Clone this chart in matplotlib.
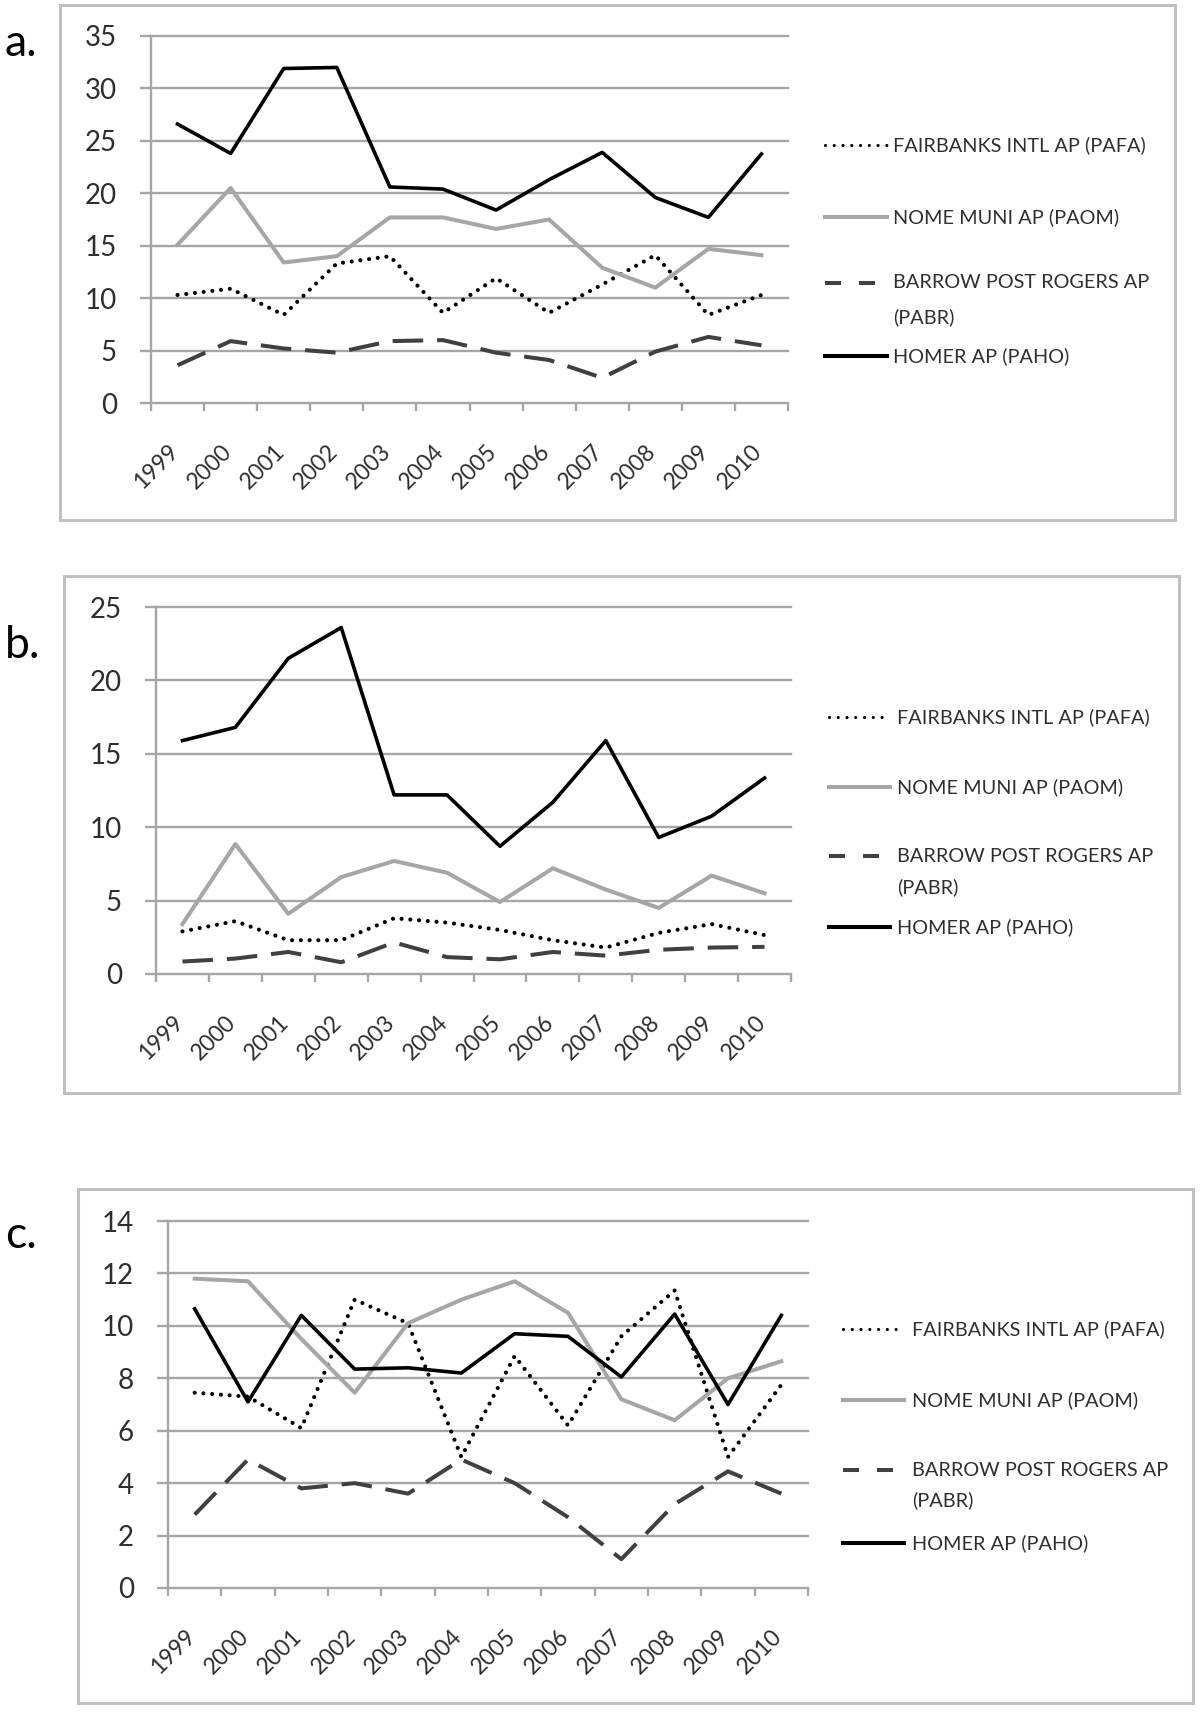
import matplotlib
matplotlib.use('Agg')
import matplotlib.pyplot as plt
from matplotlib.lines import Line2D
from matplotlib.patches import Rectangle
import matplotlib.transforms as mtrans

plt.rcParams['font.family'] = ['Lato', 'DejaVu Sans']
plt.rcParams['lines.scale_dashes'] = False

# ---------------- data ----------------
years = ['1999', '2000', '2001', '2002', '2003', '2004', '2005', '2006', '2007', '2008', '2009', '2010']
series_names = ['FAIRBANKS INTL AP (PAFA)', 'NOME MUNI AP (PAOM)',
                'BARROW POST ROGERS AP', 'HOMER AP (PAHO)']

a_fairbanks = [10.3, 10.9, 8.4, 13.3, 14.0, 8.6, 11.9, 8.6, 11.3, 14.1, 8.4, 10.3]
a_nome = [15.1, 20.5, 13.4, 14.0, 17.7, 17.7, 16.6, 17.5, 12.9, 11.0, 14.7, 14.1]
a_barrow = [3.6, 5.9, 5.2, 4.8, 5.9, 6.0, 4.8, 4.1, 2.4, 4.9, 6.3, 5.5]
a_homer = [26.6, 23.8, 31.9, 32.0, 20.6, 20.4, 18.4, 21.3, 23.9, 19.6, 17.7, 23.75]

b_fairbanks = [2.9, 3.6, 2.3, 2.3, 3.8, 3.5, 3.0, 2.3, 1.8, 2.8, 3.4, 2.65]
b_nome = [3.4, 8.85, 4.1, 6.6, 7.7, 6.9, 4.9, 7.2, 5.75, 4.5, 6.7, 5.5]
b_barrow = [0.85, 1.05, 1.5, 0.8, 2.15, 1.15, 1.0, 1.5, 1.25, 1.65, 1.8, 1.85]
b_homer = [15.9, 16.8, 21.5, 23.6, 12.2, 12.2, 8.7, 11.7, 15.9, 9.3, 10.75, 13.35]

c_fairbanks = [7.45, 7.3, 6.1, 11.0, 10.1, 5.0, 8.85, 6.2, 9.6, 11.35, 5.0, 7.75]
c_nome = [11.8, 11.7, 9.5, 7.45, 10.1, 11.0, 11.7, 10.5, 7.2, 6.4, 8.0, 8.65]
c_barrow = [2.8, 4.9, 3.8, 4.0, 3.6, 4.9, 4.0, 2.7, 1.1, 3.2, 4.45, 3.6]
c_homer = [10.65, 7.1, 10.4, 8.35, 8.4, 8.2, 9.7, 9.6, 8.05, 10.45, 7.0, 10.4]

a_yticks = [0, 5, 10, 15, 20, 25, 30, 35]
b_yticks = [0, 5, 10, 15, 20, 25]
c_yticks = [0, 2, 4, 6, 8, 10, 12, 14]

# ---------------- layout (pixels) ----------------
W, H = 1200, 1713
DPI = 100
PT = 72.0 / DPI  # points per pixel

GRID = '#a6a6a6'
BOX = '#c0c0c0'
TXT = '#2e2e2e'

fig = plt.figure(figsize=(W / DPI, H / DPI), dpi=DPI)


def fx(p):
    return p / W


def fy(p):
    return 1 - p / H


panels = [
    dict(label='a.', lab_y=44, box=(60, 5, 1175, 520), plot=(151, 36, 788, 403),
         yticks=a_yticks, data=[a_fairbanks, a_nome, a_barrow, a_homer],
         leg=(825, 887, 893, [145, 217, 283, 356], 34)),
    dict(label='b.', lab_y=646, box=(64, 576, 1179, 1093), plot=(156, 607, 791, 974),
         yticks=b_yticks, data=[b_fairbanks, b_nome, b_barrow, b_homer],
         leg=(829, 890, 897, [717, 787, 856, 927], 31)),
    dict(label='c.', lab_y=1235, box=(78, 1189, 1193, 1703), plot=(168, 1221, 808, 1588),
         yticks=c_yticks, data=[c_fairbanks, c_nome, c_barrow, c_homer],
         leg=(843, 904, 912, [1329, 1400, 1470, 1543], 30)),
]

styles = [
    dict(color='black', lw=3.0, dashes=(0.01, 6.3), dash_capstyle='round'),
    dict(color='#a6a6a6', lw=2.9),
    dict(color='#404040', lw=2.9, dashes=(22, 10), dash_capstyle='butt'),
    dict(color='black', lw=2.6),
]
leg_styles = [
    dict(color='black', lw=2.3, dashes=(0.01, 6.3), dash_capstyle='round'),
    dict(color='#a6a6a6', lw=2.9),
    dict(color='#404040', lw=2.9, dashes=(11.5, 13), dash_capstyle='butt'),
    dict(color='black', lw=2.9),
]

x = list(range(len(years)))

for p in panels:
    l, t, r, b = p['plot']
    ax = fig.add_axes([fx(l), fy(b), (r - l) / W, (b - t) / H])
    yt = p['yticks']
    ax.set_xlim(-0.5, len(years) - 0.5)
    ax.set_ylim(0, yt[-1])

    for v in yt[1:]:
        ax.axhline(v, color=GRID, lw=1.7, zorder=1, clip_on=False)

    for sp in ['top', 'right']:
        ax.spines[sp].set_visible(False)
    for sp in ['left', 'bottom']:
        ax.spines[sp].set_color(GRID)
        ax.spines[sp].set_linewidth(1.7)

    ax.set_yticks(yt)
    ax.set_yticklabels([str(v) for v in yt])
    ax.tick_params(axis='y', direction='out', length=11 * PT, width=1.7, color=GRID,
                   pad=23 * PT, labelsize=20, labelcolor=TXT)

    ax.set_xticks(x)
    ax.set_xticklabels(years, rotation=45, ha='right', va='top')
    ax.set_xticks([i - 0.5 for i in range(len(years) + 1)], minor=True)
    ax.tick_params(axis='x', which='major', length=0, pad=38 * PT, labelsize=16.5,
                   labelcolor=TXT)
    ax.tick_params(axis='x', which='minor', direction='out', length=8 * PT, width=1.7,
                   color=GRID)
    off = mtrans.ScaledTranslation(5 / DPI, 0, fig.dpi_scale_trans)
    for lbl in ax.get_xticklabels():
        lbl.set_transform(lbl.get_transform() + off)

    for k, (vals, st) in enumerate(zip(p['data'], styles)):
        ax.plot(x, vals, zorder=3 + k, clip_on=False, **st)

    # panel label
    fig.text(fx(5), fy(p['lab_y']), p['label'], fontsize=32, ha='left', va='center',
             color='black')

    # legend
    x0, x1, tx, ys, gap2 = p['leg']
    for k, (yy, st) in enumerate(zip(ys, leg_styles)):
        fig.add_artist(Line2D([fx(x0), fx(x1)], [fy(yy), fy(yy)],
                              transform=fig.transFigure, **st))
        fig.text(fx(tx), fy(yy), series_names[k], fontsize=14.3, ha='left', va='center',
                 color=TXT)
        if k == 2:
            fig.text(fx(tx), fy(yy + gap2), '(PABR)', fontsize=14.3, ha='left',
                     va='center', color=TXT)

    # box
    bl, bt, br, bb = p['box']
    fig.add_artist(Rectangle((fx(bl), fy(bb)), (br - bl) / W, (bb - bt) / H,
                             transform=fig.transFigure, fill=False, ec=BOX, lw=2.2))

fig.savefig('out.png', dpi=DPI)
